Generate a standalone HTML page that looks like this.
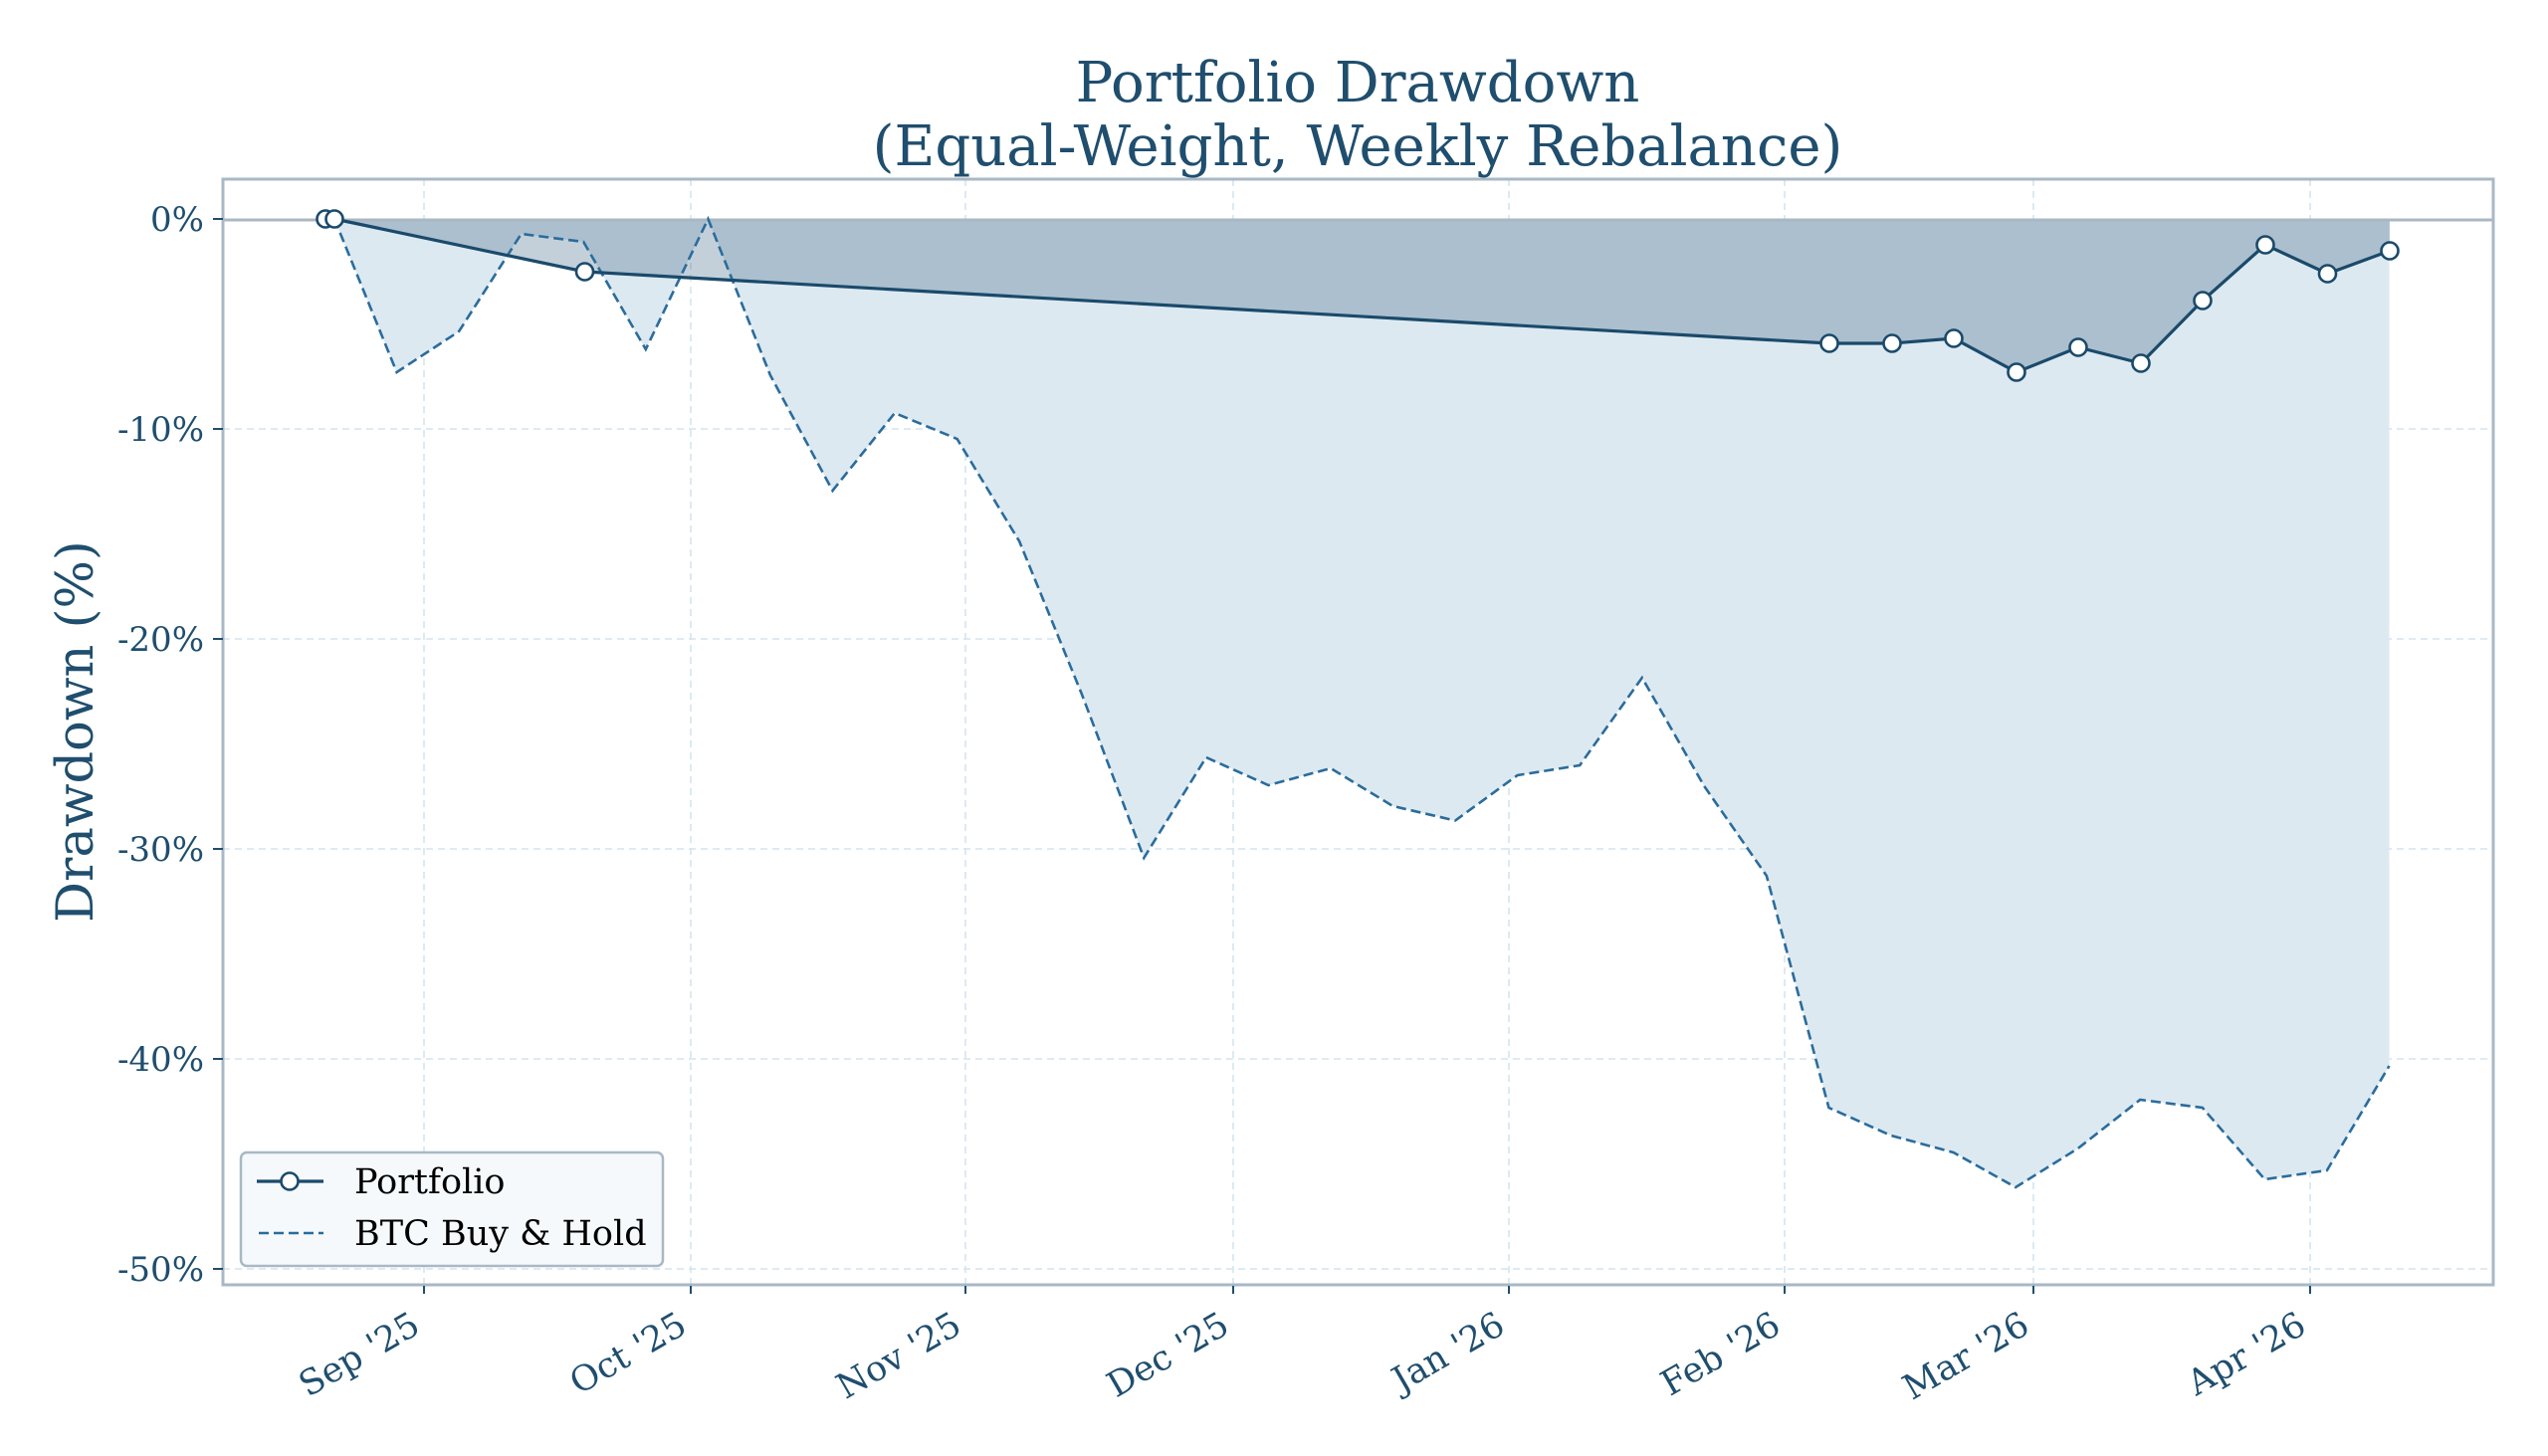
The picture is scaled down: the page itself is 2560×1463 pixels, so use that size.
<!DOCTYPE html>
<html><head><meta charset="utf-8"><style>
html,body{margin:0;padding:0;background:#fff;}
svg{display:block;}
text{font-family:"DejaVu Serif","Liberation Serif",serif;}
</style></head><body>
<svg width="2560" height="1463" viewBox="0 0 2560 1463" xmlns="http://www.w3.org/2000/svg">
<rect width="2560" height="1463" fill="#fff"/>
<g stroke="#d4e4ef" stroke-width="1.6" stroke-dasharray="7,5" fill="none">
<line x1="426" y1="180" x2="426" y2="1291"/>
<line x1="694" y1="180" x2="694" y2="1291"/>
<line x1="970" y1="180" x2="970" y2="1291"/>
<line x1="1239" y1="180" x2="1239" y2="1291"/>
<line x1="1516" y1="180" x2="1516" y2="1291"/>
<line x1="1793" y1="180" x2="1793" y2="1291"/>
<line x1="2043" y1="180" x2="2043" y2="1291"/>
<line x1="2321" y1="180" x2="2321" y2="1291"/>
<line x1="224" y1="431" x2="2505" y2="431"/>
<line x1="224" y1="642" x2="2505" y2="642"/>
<line x1="224" y1="853" x2="2505" y2="853"/>
<line x1="224" y1="1064" x2="2505" y2="1064"/>
<line x1="224" y1="1275" x2="2505" y2="1275"/>
</g>
<polygon fill="#dde9f1" points="336,220 336,220 398.6,374 461.1,333 523.7,235 586.2,243 648.8,351 711.4,220 773.9,377 836.5,493 899,415 961.6,441 1024.2,544 1086.7,697 1149.3,862 1211.8,761 1274.4,789 1337,772 1399.5,810 1462.1,824.5 1524.6,779 1587.2,769 1649.8,681 1712.3,790 1774.9,880 1837.4,1113 1900,1141 1962.6,1158 2025.1,1193 2087.7,1154 2150.2,1105 2212.8,1113 2275.4,1185 2337.9,1176 2400.5,1071 2400.5,220"/>
<polygon fill="#1a4a6b" fill-opacity="0.26" points="327,220 336,220 587.5,273 1838,345 1901,345 1963,340 2026,374 2088,349 2151,365 2213,302 2276,246 2338.5,275 2401,252 2401,220"/>
<line x1="224" y1="221" x2="2505" y2="221" stroke="#a9b8c4" stroke-width="3"/>
<polyline fill="none" stroke="#2a6c9c" stroke-width="2.6" stroke-dasharray="10,5" points="336,220 398.6,374 461.1,333 523.7,235 586.2,243 648.8,351 711.4,220 773.9,377 836.5,493 899,415 961.6,441 1024.2,544 1086.7,697 1149.3,862 1211.8,761 1274.4,789 1337,772 1399.5,810 1462.1,824.5 1524.6,779 1587.2,769 1649.8,681 1712.3,790 1774.9,880 1837.4,1113 1900,1141 1962.6,1158 2025.1,1193 2087.7,1154 2150.2,1105 2212.8,1113 2275.4,1185 2337.9,1176 2400.5,1071"/>
<polyline fill="none" stroke="#1a4a6b" stroke-width="3.2" points="327,220 336,220 587.5,273 1838,345 1901,345 1963,340 2026,374 2088,349 2151,365 2213,302 2276,246 2338.5,275 2401,252"/>
<g fill="#fff" stroke="#1a4a6b" stroke-width="2.6">
<circle cx="327" cy="220" r="8.5"/><circle cx="336" cy="220" r="8.5"/><circle cx="587.5" cy="273" r="8.5"/>
<circle cx="1838" cy="345" r="8.5"/><circle cx="1901" cy="345" r="8.5"/><circle cx="1963" cy="340" r="8.5"/>
<circle cx="2026" cy="374" r="8.5"/><circle cx="2088" cy="349" r="8.5"/><circle cx="2151" cy="365" r="8.5"/>
<circle cx="2213" cy="302" r="8.5"/><circle cx="2276" cy="246" r="8.5"/><circle cx="2338.5" cy="275" r="8.5"/>
<circle cx="2401" cy="252" r="8.5"/>
</g>
<rect x="224" y="180" width="2281" height="1111" fill="none" stroke="#a9b8c4" stroke-width="3"/>
<g stroke="#1f4e6e" stroke-width="2">
<line x1="214" y1="220" x2="224" y2="220"/><line x1="214" y1="431" x2="224" y2="431"/>
<line x1="214" y1="642" x2="224" y2="642"/><line x1="214" y1="853" x2="224" y2="853"/>
<line x1="214" y1="1064" x2="224" y2="1064"/><line x1="214" y1="1275" x2="224" y2="1275"/>
<line x1="426" y1="1292" x2="426" y2="1300"/><line x1="694" y1="1292" x2="694" y2="1300"/>
<line x1="970" y1="1292" x2="970" y2="1300"/><line x1="1239" y1="1292" x2="1239" y2="1300"/>
<line x1="1516" y1="1292" x2="1516" y2="1300"/><line x1="1793" y1="1292" x2="1793" y2="1300"/>
<line x1="2043" y1="1292" x2="2043" y2="1300"/><line x1="2321" y1="1292" x2="2321" y2="1300"/>
</g>
<g fill="#1f4e6e" font-size="34" text-anchor="end">
<text x="205" y="232">0%</text>
<text x="205" y="443">-10%</text>
<text x="205" y="654">-20%</text>
<text x="205" y="865">-30%</text>
<text x="205" y="1076">-40%</text>
<text x="205" y="1287">-50%</text>
</g>
<g fill="#1f4e6e" font-size="35" text-anchor="end">
<text transform="translate(424,1338) rotate(-30)">Sep '25</text>
<text transform="translate(692,1338) rotate(-30)">Oct '25</text>
<text transform="translate(968,1338) rotate(-30)">Nov '25</text>
<text transform="translate(1237,1338) rotate(-30)">Dec '25</text>
<text transform="translate(1514,1338) rotate(-30)">Jan '26</text>
<text transform="translate(1791,1338) rotate(-30)">Feb '26</text>
<text transform="translate(2041,1338) rotate(-30)">Mar '26</text>
<text transform="translate(2319,1338) rotate(-30)">Apr '26</text>
</g>
<text transform="translate(93,735) rotate(-90)" text-anchor="middle" font-size="51" fill="#1f4e6e">Drawdown (%)</text>
<g fill="#1f4e6e" font-size="56" text-anchor="middle">
<text x="1364" y="102">Portfolio Drawdown</text>
<text x="1364" y="166">(Equal-Weight, Weekly Rebalance)</text>
</g>
<rect x="242" y="1158" width="424" height="114" rx="6" fill="#f5f9fc" stroke="#a9b8c4" stroke-width="2.5"/>
<line x1="258" y1="1187" x2="325" y2="1187" stroke="#1a4a6b" stroke-width="3.2"/>
<circle cx="291" cy="1187" r="8.5" fill="#fff" stroke="#1a4a6b" stroke-width="2.6"/>
<line x1="260" y1="1239" x2="325" y2="1239" stroke="#2a6c9c" stroke-width="2.6" stroke-dasharray="10,5"/>
<g font-size="35" fill="#000">
<text x="356" y="1199">Portfolio</text>
<text x="356" y="1251">BTC Buy &amp; Hold</text>
</g>
</svg>
</body></html>
